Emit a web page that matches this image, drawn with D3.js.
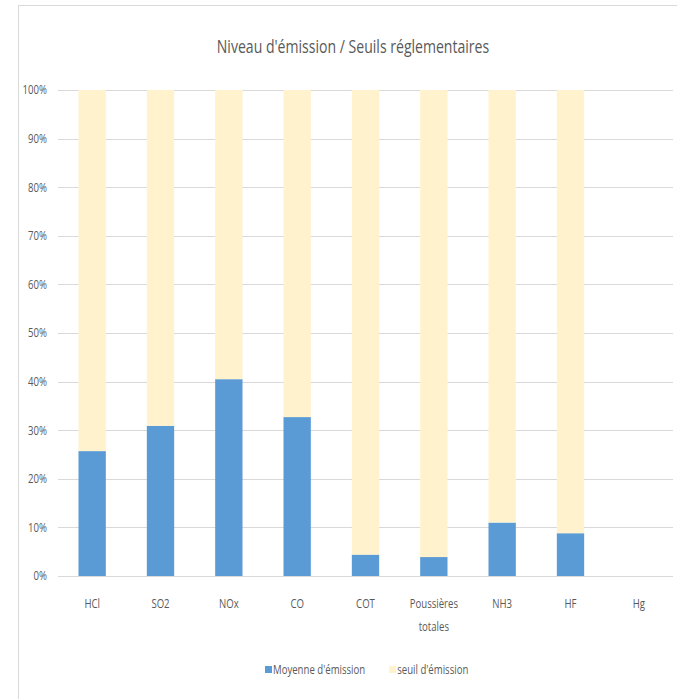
<!DOCTYPE html>
<html>
<head>
<meta charset="utf-8">
<script src="https://cdn.jsdelivr.net/npm/d3@7"></script>
<style>
  html, body { margin: 0; padding: 0; background: #fff; }
  svg text { font-family: "Open Sans", "Liberation Sans", sans-serif; fill: #595959; }
</style>
</head>
<body>
<svg id="chart" width="677" height="699"></svg>
<script>
const categories = ["HCl", "SO2", "NOx", "CO", "COT", "Poussières totales", "NH3", "HF", "Hg"];
const moyenne = [25.7, 30.9, 40.5, 32.7, 4.4, 3.9, 11.0, 8.8, 0];
const seuil = [74.3, 69.1, 59.5, 67.3, 95.6, 96.1, 89.0, 91.2, 0];
const yTicks = [0, 10, 20, 30, 40, 50, 60, 70, 80, 90, 100];
const seriesNames = ["Moyenne d'émission", "seuil d'émission"];
const colors = ["#5B9BD5", "#FFF2CC"];
const title = "Niveau d'émission / Seuils réglementaires";

const svg = d3.select("#chart");
const W = 677, H = 699;
const m = { left: 58, right: 4, top: 90, bottom: 123 };
const SQ = 0.8; // horizontal condensing factor (Calibri-like)

function condense(sel, f) {
  let out = 0;
  sel.each(function() {
    const w = this.getComputedTextLength();
    out = w * (f || SQ);
    if (w > 0) d3.select(this).attr("textLength", out).attr("lengthAdjust", "spacingAndGlyphs");
  });
  return out;
}

// chart border
svg.append("rect").attr("x", 18.5).attr("y", 5.5).attr("width", W).attr("height", H)
  .attr("fill", "#fff").attr("stroke", "#D9D9D9").attr("stroke-width", 1);

const x = d3.scaleBand().domain(categories).range([m.left, W - m.right]).paddingInner(0.6).paddingOuter(0.3);
const y = d3.scaleLinear().domain([0, 100]).range([H - m.bottom, m.top]);

// gridlines
svg.append("g").selectAll("line").data(yTicks).join("line")
  .attr("x1", m.left).attr("x2", W - m.right)
  .attr("y1", d => Math.round(y(d)) + 0.5).attr("y2", d => Math.round(y(d)) + 0.5)
  .attr("stroke", "#D9D9D9").attr("stroke-width", 1);

// y axis labels
const yAxis = d3.axisLeft(y).tickValues(yTicks).tickFormat(d => d + "%").tickSize(0).tickPadding(11);
const gy = svg.append("g").attr("transform", `translate(${m.left},0)`).call(yAxis);
gy.select(".domain").remove();
gy.selectAll("text").attr("font-family", null).style("font-size", "12px").attr("fill", "#595959");
gy.selectAll("text").each(function() { condense(d3.select(this)); });

// stacked data
const rows = categories.map((c, i) => ({ cat: c, m: moyenne[i], s: seuil[i] }));
const stack = d3.stack().keys(["m", "s"])(rows);

svg.append("g").selectAll("g").data(stack).join("g")
  .attr("fill", (d, i) => colors[i])
  .selectAll("rect").data(d => d).join("rect")
  .attr("x", d => x(d.data.cat))
  .attr("width", x.bandwidth())
  .attr("y", d => y(d[1]))
  .attr("height", d => y(d[0]) - y(d[1]));

// x axis labels
const xAxis = d3.axisBottom(x).tickSize(0).tickPadding(0).tickFormat("");
const gx = svg.append("g").attr("transform", `translate(0,${H - m.bottom})`).call(xAxis);
gx.select(".domain").remove();
const labelLines = { "Poussières totales": ["Poussières", "totales"] };
gx.selectAll(".tick").each(function(d) {
  const lines = labelLines[d] || [d];
  lines.forEach((ln, k) => {
    const t = d3.select(this).append("text").attr("text-anchor", "middle").style("font-size", "12px")
      .attr("x", 0).attr("y", 32 + k * 23).text(ln);
    condense(t);
  });
});

// title
const tt = svg.append("text").attr("x", 353).attr("y", 53).attr("text-anchor", "middle")
  .style("font-size", "19px").text(title);
condense(tt, 0.74);

// legend
const lg = svg.append("g");
let lx = 265;
seriesNames.forEach((name, i) => {
  lg.append("rect").attr("x", lx).attr("y", 666).attr("width", 7).attr("height", 7).attr("fill", colors[i]);
  const t = lg.append("text").attr("x", lx + 8).attr("y", 674).style("font-size", "12px").text(name);
  const w = condense(t);
  lx += 8 + w + 24;
});
</script>
</body>
</html>
